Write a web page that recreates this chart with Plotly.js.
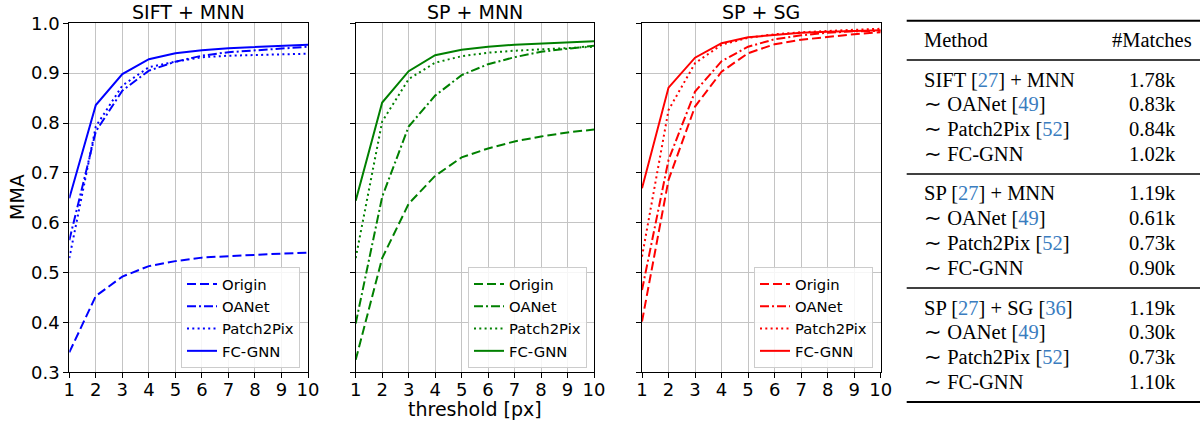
<!DOCTYPE html>
<html>
<head>
<meta charset="utf-8">
<script src="https://cdn.plot.ly/plotly-3.0.1.min.js"></script>
<style>html,body{margin:0;padding:0;background:#fff;}#chart{width:1200px;height:423px;}</style>
</head>
<body>
<div id="chart"></div>
<script>
// ---------------- data ----------------
const thresholds = [1, 2, 3, 4, 5, 6, 7, 8, 9, 10];
const panelTitles = ["SIFT + MNN", "SP + MNN", "SP + SG"];
const seriesNames = ["Origin", "OANet", "Patch2Pix", "FC-GNN"];

// SIFT + MNN
const siftOrigin    = [0.340, 0.453, 0.492, 0.513, 0.523, 0.530, 0.533, 0.536, 0.538, 0.540];
const siftOANet     = [0.565, 0.783, 0.865, 0.905, 0.923, 0.935, 0.942, 0.946, 0.950, 0.953];
const siftPatch2Pix = [0.529, 0.793, 0.875, 0.912, 0.923, 0.932, 0.935, 0.936, 0.937, 0.939];
const siftFCGNN     = [0.649, 0.836, 0.898, 0.928, 0.940, 0.946, 0.950, 0.952, 0.954, 0.957];
// SP + MNN
const spmOrigin     = [0.325, 0.529, 0.638, 0.694, 0.731, 0.749, 0.763, 0.773, 0.781, 0.787];
const spmOANet      = [0.398, 0.652, 0.793, 0.855, 0.896, 0.918, 0.932, 0.943, 0.949, 0.955];
const spmPatch2Pix  = [0.529, 0.803, 0.888, 0.921, 0.934, 0.941, 0.945, 0.948, 0.950, 0.953];
const spmFCGNN      = [0.644, 0.841, 0.904, 0.936, 0.947, 0.953, 0.957, 0.959, 0.961, 0.964];
// SP + SG
const spsOrigin     = [0.402, 0.686, 0.833, 0.903, 0.940, 0.958, 0.967, 0.973, 0.978, 0.982];
const spsOANet      = [0.465, 0.726, 0.863, 0.924, 0.953, 0.968, 0.976, 0.981, 0.984, 0.985];
const spsPatch2Pix  = [0.532, 0.826, 0.920, 0.957, 0.971, 0.978, 0.982, 0.985, 0.987, 0.989];
const spsFCGNN      = [0.669, 0.871, 0.931, 0.960, 0.972, 0.977, 0.981, 0.983, 0.985, 0.986];

const yTickVals = [0.3, 0.4, 0.5, 0.6, 0.7, 0.8, 0.9, 1.0];

// table
const tableHeader = ["Method", "#Matches"];
const tableMethods = [
  "SIFT [27] + MNN", "∼ OANet [49]", "∼ Patch2Pix [52]", "∼ FC-GNN",
  "SP [27] + MNN",   "∼ OANet [49]", "∼ Patch2Pix [52]", "∼ FC-GNN",
  "SP [27] + SG [36]", "∼ OANet [49]", "∼ Patch2Pix [52]", "∼ FC-GNN"
];
const tableMatches = [
  "1.78k", "0.83k", "0.84k", "1.02k",
  "1.19k", "0.61k", "0.73k", "0.90k",
  "1.19k", "0.30k", "0.73k", "1.10k"
];

// ---------------- build ----------------
const W = 1200, H = 423;
const px = v => v / W;
const py = v => 1 - v / H;

const panelData = [
  [siftOrigin, siftOANet, siftPatch2Pix, siftFCGNN],
  [spmOrigin, spmOANet, spmPatch2Pix, spmFCGNN],
  [spsOrigin, spsOANet, spsPatch2Pix, spsFCGNN]
];
const panelColors = ["#0000ff", "#008000", "#ff0000"];
const dashes = ["9px,4px", "9px,3px,2px,3px", "2px,3.3px", "solid"];
const xDomains = [[69.3, 308], [355.7, 594], [642, 880.7]];
const yTop = 23.3, yBot = 372.3;

const traces = [];
panelData.forEach((series, p) => {
  series.forEach((vals, m) => {
    traces.push({
      type: "scatter", mode: "lines",
      x: thresholds, y: vals,
      name: seriesNames[m],
      xaxis: p === 0 ? "x" : "x" + (p + 1),
      yaxis: p === 0 ? "y" : "y" + (p + 1),
      legend: p === 0 ? "legend" : "legend" + (p + 1),
      line: { color: panelColors[p], width: 2, dash: dashes[m] },
      hoverinfo: "skip"
    });
  });
});

const layout = {
  width: W, height: H,
  margin: { l: 0, r: 0, t: 0, b: 0 },
  paper_bgcolor: "#fff", plot_bgcolor: "#fff",
  font: { family: "DejaVu Sans", size: 14, color: "#000" },
  showlegend: true,
  shapes: [], annotations: []
};

const legendRights = [300, 587, 873];
xDomains.forEach((d, p) => {
  const sx = p === 0 ? "" : String(p + 1);
  layout["xaxis" + sx] = {
    domain: [px(d[0]), px(d[1])],
    anchor: "y" + sx,
    range: [1, 10], dtick: 1, tick0: 1,
    showgrid: true, gridcolor: "#c4c4c4", gridwidth: 1,
    zeroline: false,
    showline: true, linecolor: "#000", linewidth: 1, mirror: true,
    ticks: "outside", ticklen: 5, tickwidth: 1, tickcolor: "#000",
    ticklabelstandoff: -4,
    tickfont: { family: "DejaVu Sans", size: 18, color: "#000" }
  };
  layout["yaxis" + sx] = {
    domain: [py(yBot), py(yTop)],
    anchor: "x" + sx,
    range: [0.3, 1.0],
    tickvals: yTickVals, tickformat: ".1f",
    showticklabels: p === 0,
    showgrid: true, gridcolor: "#c4c4c4", gridwidth: 1,
    zeroline: false,
    showline: true, linecolor: "#000", linewidth: 1, mirror: true,
    ticks: "outside", ticklen: 5, tickwidth: 1, tickcolor: "#000",
    tickfont: { family: "DejaVu Sans", size: 18, color: "#000" }
  };
  layout[p === 0 ? "legend" : "legend" + (p + 1)] = {
    x: px(legendRights[p]), xanchor: "right",
    y: py(368), yanchor: "bottom",
    bgcolor: "rgba(255,255,255,0.85)",
    bordercolor: "#cccccc", borderwidth: 1,
    font: { family: "DejaVu Sans", size: 14.8, color: "#000" }
  };
  layout.annotations.push({
    xref: "paper", yref: "paper",
    x: px((d[0] + d[1]) / 2), y: py(12.5), xanchor: "center", yanchor: "middle",
    text: panelTitles[p], showarrow: false,
    font: { family: "DejaVu Sans", size: 19, color: "#000" }
  });
});

layout.annotations.push({
  xref: "paper", yref: "paper", x: px(17.5), y: py(197.5),
  xanchor: "center", yanchor: "middle", textangle: -90,
  text: "MMA", showarrow: false,
  font: { family: "DejaVu Sans", size: 19, color: "#000" }
});
layout.annotations.push({
  xref: "paper", yref: "paper", x: px(474.7), y: py(422),
  xanchor: "center", yanchor: "bottom",
  text: "threshold [px]", showarrow: false,
  font: { family: "DejaVu Sans", size: 19, color: "#000" }
});

// ---- table ----
const serif = { family: "Liberation Serif, Times New Roman, serif", size: 20.5, color: "#000" };
const citeColor = "#3a7dbf";
const fmtCite = s => s.replace(/\[(\d+)\]/g, "[<span style='color:" + citeColor + "'>$1</span>]");
const tLeft = 906.7, tRight = 1200;
const textLeft = 921.5, numCenter = 1152;
[[20.7, 2], [60, 1.3], [174, 1.3], [288, 1.3], [402, 2]].forEach(l => {
  layout.shapes.push({
    type: "line", xref: "paper", yref: "paper",
    x0: px(tLeft), x1: px(tRight), y0: py(l[0]), y1: py(l[0]),
    line: { color: "#000", width: l[1] }
  });
});
layout.annotations.push({
  xref: "paper", yref: "paper", x: px(textLeft), y: py(40), xanchor: "left", yanchor: "middle",
  text: tableHeader[0], showarrow: false, font: serif
});
layout.annotations.push({
  xref: "paper", yref: "paper", x: px(numCenter), y: py(40), xanchor: "center", yanchor: "middle",
  text: tableHeader[1], showarrow: false, font: serif
});
tableMethods.forEach((m, i) => {
  const g = Math.floor(i / 4), r = i % 4;
  const yc = 79.5 + g * 114 + r * 24.8;
  layout.annotations.push({
    xref: "paper", yref: "paper", x: px(textLeft), y: py(yc), xanchor: "left", yanchor: "middle",
    text: fmtCite(m), showarrow: false, font: serif
  });
  layout.annotations.push({
    xref: "paper", yref: "paper", x: px(numCenter), y: py(yc), xanchor: "center", yanchor: "middle",
    text: tableMatches[i], showarrow: false, font: serif
  });
});

Plotly.newPlot("chart", traces, layout, { staticPlot: true, displayModeBar: false });
</script>
</body>
</html>
